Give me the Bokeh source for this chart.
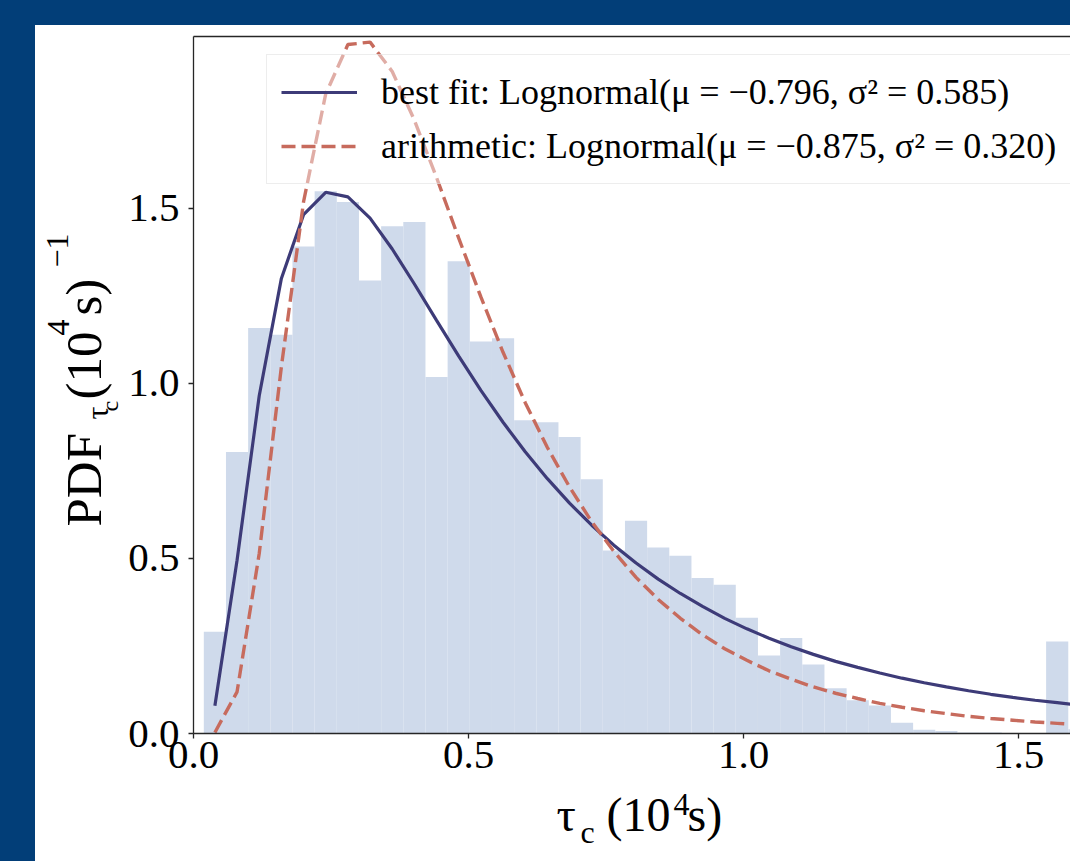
import math
from bokeh.plotting import figure
from bokeh.layouts import row, column
from bokeh.models import (Range1d, FixedTicker, LinearAxis, Label, Legend, LegendItem)
from bokeh.embed import file_html
from bokeh.resources import INLINE

# ---------------- data ----------------
bin_centers = [0.0389, 0.0792, 0.1195, 0.1598, 0.2001, 0.2404, 0.2807, 0.3210,
               0.3613, 0.4016, 0.4419, 0.4822, 0.5225, 0.5628, 0.6031, 0.6434,
               0.6837, 0.7240, 0.7643, 0.8046, 0.8449, 0.8852, 0.9255, 0.9658,
               1.0061, 1.0464, 1.0867, 1.1270, 1.1673, 1.2076, 1.2479, 1.2882,
               1.3285, 1.3688, 1.4091, 1.4494, 1.4897, 1.5300, 1.5703, 1.6106]
bin_width = 0.0403
hist_density = [0.291, 0.804, 1.158, 1.139, 1.391, 1.549, 1.518, 1.294,
                1.449, 1.461, 1.018, 1.349, 1.120, 1.129, 0.895, 0.889,
                0.847, 0.726, 0.523, 0.608, 0.531, 0.508, 0.444, 0.425,
                0.331, 0.223, 0.273, 0.197, 0.129, 0.095, 0.080, 0.031,
                0.011, 0.007, 0.003, 0.003, 0.000, 0.000, 0.263, 0.012]
best_fit_pdf = [0.079, 0.495, 0.965, 1.300, 1.482, 1.546, 1.533, 1.472,
                1.384, 1.284, 1.180, 1.078, 0.980, 0.889, 0.805, 0.728,
                0.658, 0.595, 0.538, 0.487, 0.441, 0.400, 0.363, 0.329,
                0.299, 0.272, 0.248, 0.226, 0.206, 0.189, 0.173, 0.158,
                0.145, 0.133, 0.122, 0.112, 0.103, 0.095, 0.088, 0.081]
arith_pdf = [0.003, 0.119, 0.514, 1.048, 1.519, 1.827, 1.968, 1.975,
             1.891, 1.752, 1.588, 1.415, 1.247, 1.089, 0.945, 0.817,
             0.704, 0.605, 0.520, 0.446, 0.383, 0.329, 0.282, 0.242,
             0.209, 0.179, 0.155, 0.133, 0.115, 0.100, 0.086, 0.075,
             0.065, 0.057, 0.049, 0.043, 0.038, 0.033, 0.029, 0.025]
legend_labels = [
    "best fit: Lognormal(\u03bc = \u22120.796, \u03c3\u00b2 = 0.585)",
    "arithmetic: Lognormal(\u03bc = \u22120.875, \u03c3\u00b2 = 0.320)",
]
x_ticks = [0.0, 0.5, 1.0, 1.5]
x_tick_labels = ["0.0", "0.5", "1.0", "1.5"]
y_ticks = [0.0, 0.5, 1.0, 1.5]
y_tick_labels = ["0.0", "0.5", "1.0", "1.5"]

# ---------------- style ----------------
FONT = "Liberation Serif"
BG_BLUE = "#023e78"
BAR_COLOR = "#cfdaeb"
SOLID_COLOR = "#3d3b78"
DASH_COLOR = "#c76b5d"
AXIS_COLOR = "#262626"

# ---------------- main plot ----------------
p = figure(output_backend="svg", toolbar_location=None,
           frame_width=877, frame_height=697,
           min_border_left=70, min_border_right=0,
           min_border_top=11, min_border_bottom=53,
           x_range=Range1d(0, 1.5945), y_range=Range1d(0, 1.991),
           background_fill_color="white", border_fill_color="white")
p.outline_line_color = None
p.xgrid.visible = False
p.ygrid.visible = False

for ax, ticks, labels in ((p.xaxis[0], x_ticks, x_tick_labels), (p.yaxis[0], y_ticks, y_tick_labels)):
    ax.ticker = FixedTicker(ticks=ticks)
    ax.major_label_overrides = {t: l for t, l in zip(ticks, labels)}
    ax.major_label_text_font = FONT
    ax.major_label_text_font_size = "41px"
    ax.major_label_text_color = "black"
    ax.axis_line_color = AXIS_COLOR
    ax.axis_line_width = 1.3
    ax.major_tick_line_color = AXIS_COLOR
    ax.major_tick_line_width = 1.3
    ax.major_tick_in = 0
    ax.major_tick_out = 5
    ax.minor_tick_line_color = None
p.xaxis.major_label_standoff = 3
p.yaxis.major_label_standoff = 9

top_axis = LinearAxis(ticker=FixedTicker(ticks=[]), major_label_text_font_size="0px",
                      axis_line_color=AXIS_COLOR, axis_line_width=1.3,
                      major_tick_out=0, major_tick_in=0, minor_tick_out=0, minor_tick_in=0,
                      major_label_standoff=0)
p.add_layout(top_axis, "above")

p.vbar(x=bin_centers, width=bin_width, top=hist_density, bottom=0,
       fill_color=BAR_COLOR, line_color=None)
r_best = p.line(bin_centers, best_fit_pdf, line_color=SOLID_COLOR, line_width=3.2)
r_arith = p.line(bin_centers, arith_pdf, line_color=DASH_COLOR, line_width=3.4,
                 line_dash="14 6")

legend = Legend(items=[LegendItem(label=legend_labels[0], renderers=[r_best]),
                       LegendItem(label=legend_labels[1], renderers=[r_arith])],
                location=(73, 549), margin=0, padding=14, spacing=8,
                glyph_width=76, glyph_height=46, label_height=46,
                label_standoff=24, label_width=671,
                label_text_font=FONT, label_text_font_size="36px",
                label_text_color="black",
                border_line_color="#dcdcdc", border_line_width=1.5,
                background_fill_color="white", background_fill_alpha=0.45)
p.add_layout(legend, "center")


# ---------------- axis-label panels (page coordinates, y downwards) ----------------
def label_panel(x0, x1, y0, y1):
    f = figure(output_backend="svg", toolbar_location=None,
               frame_width=x1 - x0, frame_height=y1 - y0,
               min_border=0, min_border_left=0, min_border_right=0,
               min_border_top=0, min_border_bottom=0,
               x_range=Range1d(x0, x1), y_range=Range1d(y1, y0),
               x_axis_type=None, y_axis_type=None,
               background_fill_color="white", border_fill_color="white")
    f.outline_line_color = None
    return f


def piece(f, text, X, Y, size, angle=0.0):
    f.add_layout(Label(x=X, y=Y, text=text, text_font=FONT,
                       text_font_size=f"{size}px", angle=angle,
                       text_align="left", text_baseline="alphabetic",
                       text_color="black"))


ylab = label_panel(35, 123, 25, 786)
R = math.pi / 2
piece(ylab, "PDF", 83, 515, 51, R)
piece(ylab, "\u03c4", 96, 408, 32, R)
piece(ylab, "c", 109, 400, 24, R)
piece(ylab, "(10", 83, 388, 51, R)
piece(ylab, "4", 58, 324, 32, R)
piece(ylab, "s)", 83, 304, 51, R)
piece(ylab, "\u22121", 57, 256, 32, R)

xlab = label_panel(35, 1070, 786, 861)
piece(xlab, "\u03c4", 556, 814, 48)
piece(xlab, "c", 580, 831, 32)
piece(xlab, "(10", 606, 814, 48)
piece(xlab, "4", 673, 804, 32)
piece(xlab, "s)", 687, 814, 48)

layout = column(row(ylab, p, spacing=0), xlab, spacing=0)

html = file_html(layout, INLINE)
i = html.rfind("<body>")
if i >= 0:
    html = (html[:i]
            + '<body style="margin:0;padding:0;background-color:white;overflow:hidden;'
              'border-top:25px solid %s;border-left:35px solid %s;">' % (BG_BLUE, BG_BLUE)
            + html[i + len("<body>"):])
open("out.html", "w").write(html)
